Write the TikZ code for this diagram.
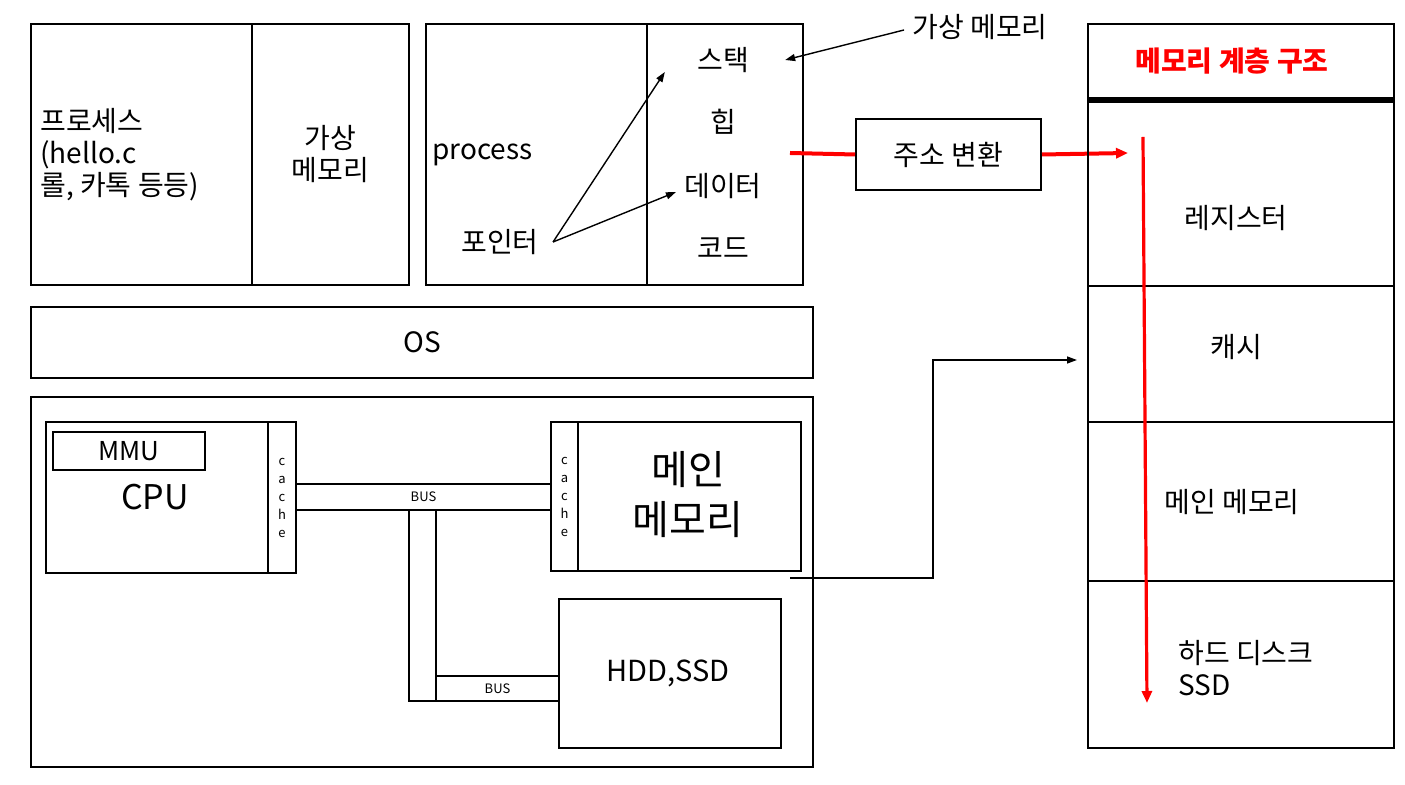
\documentclass[tikz,border=0pt]{standalone}
\usepackage{fontspec}
\setmainfont{Noto Sans CJK KR}
\usetikzlibrary{arrows.meta}
\tikzset{
  box/.style={draw, line width=1pt, inner sep=0pt, anchor=north west},
  lbl/.style={font=\fontsize{14}{16}\selectfont, inner sep=1pt},
  tiny/.style={font=\fontsize{6.5}{9}\selectfont, inner sep=0pt, align=center},
  ptr/.style={-{Triangle[length=5pt,width=3.5pt]}, line width=0.7pt},
  redline/.style={red, line width=2pt},
  redarr/.style={red, line width=2pt, -{Triangle[length=6pt,width=5pt]}},
}
\begin{document}
\begin{tikzpicture}[x=0.5pt,y=-0.5pt]
  \useasboundingbox (0,0) rectangle (1405,785);

  % process and its virtual memory
  \node[box, minimum width=110.5pt, minimum height=130.5pt] (proc) at (30,23) {};
  \node[box, minimum width=78.5pt, minimum height=130.5pt] (pvm) at (251,23) {};
  \node[lbl, anchor=west, align=left] (proctxt) at (38,155) {프로세스\\(hello.c\\롤, 카톡 등등)};
  \node[lbl, align=center] (pvmtxt) at (pvm.center) {가상\\메모리};

  % process with pointer
  \node[box, minimum width=110.5pt, minimum height=130.5pt] (pm) at (425,23) {};
  \node[box, minimum width=78pt, minimum height=130.5pt] (vm) at (646,23) {};
  \node[lbl, anchor=west] (process) at (430,155) {process};
  \node[lbl] (pointer) at (500,242) {포인터};
  \node[lbl] (stack) at (723,60) {스택};
  \node[lbl] (heap) at (723,122) {힙};
  \node[lbl] (data) at (723,186) {데이터};
  \node[lbl] (code) at (723,248) {코드};
  \node[lbl] (vmlabel) at (980,27) {가상 메모리};
  \draw[ptr] ([xshift=6pt]pointer.east) -- ([xshift=-15pt,yshift=-6pt]stack.west);
  \draw[ptr] ([xshift=6pt]pointer.east) -- ([xshift=-3pt,yshift=-3pt]data.west);
  \draw[ptr] ([xshift=-3pt,yshift=-1.5pt]vmlabel.west) -- ([xshift=17pt]stack.east);

  % address translation
  \node[box, minimum width=92.5pt, minimum height=35.5pt] (addr) at (855,118) {};
  \node[lbl] (addrtxt) at (addr.center) {주소 변환};
  \coordinate (redstart) at (790,153);
  \coordinate (regin) at (1128,153);
  \draw[redline] (redstart) -- (addr.west);
  \draw[redarr] (addr.east) -- (regin);

  % OS
  \node[box, minimum width=391pt, minimum height=35.5pt] (os) at (30,306) {};
  \node[lbl] (ostxt) at (os.center) {OS};

  % hardware
  \node[box, minimum width=391pt, minimum height=185pt] (hw) at (30,396) {};
  \node[box, minimum width=111pt, minimum height=75.5pt] (cpu) at (45,421) {};
  \node[box, minimum width=14pt, minimum height=75.5pt] (ccache) at (267,421) {};
  \node[tiny] (ccachetxt) at (ccache.center) {c\\a\\c\\h\\e};
  \node[box, minimum width=76pt, minimum height=19pt] (mmu) at (52,431) {};
  \node[font=\fontsize{13}{16}\selectfont] (mmutxt) at (mmu.center) {MMU};
  \node[font=\fontsize{17}{20}\selectfont] (cputxt) at (155,497) {CPU};

  \node[box, minimum width=127.5pt, minimum height=13pt] (bus) at (295,483) {};
  \node[tiny] (bustxt) at (bus.center) {BUS};

  \node[box, minimum width=13.5pt, minimum height=74.5pt] (mcache) at (550,421) {};
  \node[tiny] (mcachetxt) at (mcache.center) {c\\a\\c\\h\\e};
  \node[box, minimum width=111.5pt, minimum height=74.5pt] (mainmem) at (577,421) {};
  \node[font=\fontsize{20}{25}\selectfont, align=center] (mainmemtxt) at (688,495) {메인\\메모리};

  \node[box, minimum width=13.5pt, minimum height=95.5pt] (vbus) at (408,509) {};
  \node[box, minimum width=61.5pt, minimum height=12.5pt] (bus2) at (435,675) {};
  \node[tiny] (bus2txt) at (bus2.center) {BUS};

  \node[box, minimum width=111pt, minimum height=74.5pt] (hdd) at (558,598) {};
  \node[font=\fontsize{14.5}{18}\selectfont] (hddtxt) at (668,673) {HDD,SSD};

  % memory hierarchy
  \node[box, minimum width=153pt, minimum height=37.5pt] (title) at (1087,23) {};
  \node[lbl, red, font=\fontsize{14}{16}\selectfont\bfseries] (titletxt) at (1232,61) {메모리 계층 구조};
  \node[box, minimum width=153pt, minimum height=93.5pt] (reg) at (1087,98) {};
  \node[box, minimum width=153pt, minimum height=68pt] (cache) at (1087,285) {};
  \node[box, minimum width=153pt, minimum height=79.5pt] (mem) at (1087,421) {};
  \node[box, minimum width=153pt, minimum height=83.5pt] (disk) at (1087,580) {};
  \draw[line width=3pt] (title.south west) -- (title.south east);
  \node[lbl] (regtxt) at (1236,218) {레지스터};
  \node[lbl] (cachetxt) at (1236,347) {캐시};
  \node[lbl] (memtxt) at (1232,502) {메인 메모리};
  \node[lbl, anchor=west, align=left] (disktxt) at (1176,668) {하드 디스크\\SSD};

  \coordinate (dtop) at (1143,137);
  \coordinate (dbot) at (1147,703);
  \draw[red, line width=1.6pt, -{Triangle[length=6pt,width=5pt]}] (dtop) -- (dbot);

  % hardware to hierarchy
  \coordinate (memout) at (790,578);
  \coordinate (hierin) at (1077,360);
  \draw[ptr] (memout) -- ++(143,0) |- (hierin);
\end{tikzpicture}
\end{document}
